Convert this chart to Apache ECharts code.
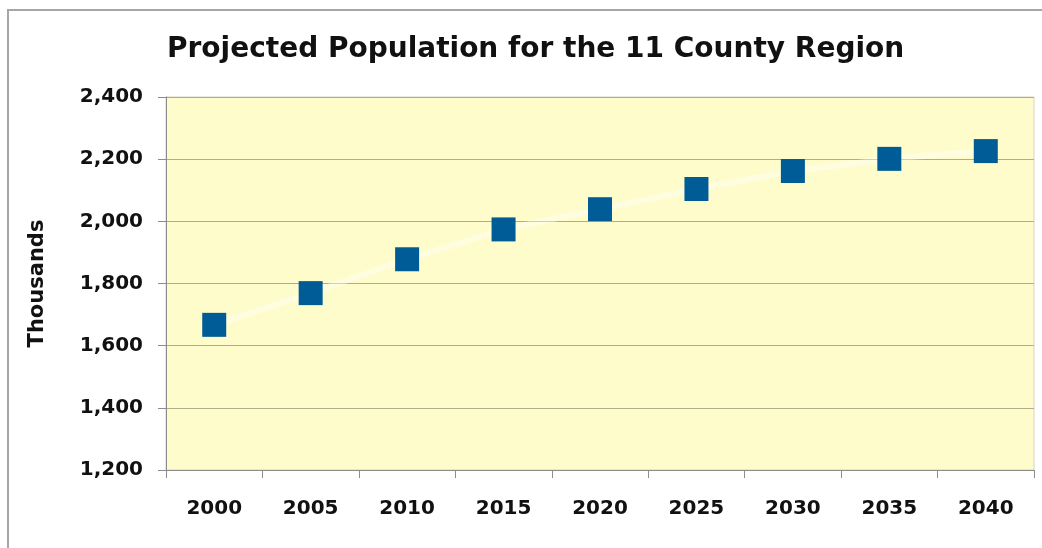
<!DOCTYPE html>
<html>
<head>
<meta charset="utf-8">
<title>Projected Population for the 11 County Region</title>
<script src="https://cdn.jsdelivr.net/npm/echarts@6/dist/echarts.min.js"></script>
<style>
  html, body { margin: 0; padding: 0; background: #ffffff; }
  #chart { width: 1042px; height: 548px; }
</style>
</head>
<body>
<div id="chart"></div>
<script>
// Projection years and population (thousands)
const years = ['2000', '2005', '2010', '2015', '2020', '2025', '2030', '2035', '2040'];
const population = [1667, 1769, 1878, 1974, 2039, 2104, 2162, 2201, 2226];
const yTicks = { min: 1200, max: 2400, step: 200 };

const FONT = '"DejaVu Sans", "Liberation Sans", Arial, sans-serif';

const chart = echarts.init(document.getElementById('chart'), null, { renderer: 'canvas' });

chart.setOption({
  backgroundColor: '#ffffff',
  animation: false,
  title: {
    text: 'Projected Population for the 11 County Region',
    left: 162,
    top: 31,
    textStyle: { fontFamily: FONT, fontWeight: 'bold', fontSize: 28, color: '#111111' }
  },
  graphic: [{
    type: 'rect',
    shape: { x: 8, y: 10, width: 1200, height: 700 },
    style: { fill: 'none', stroke: '#a6a6a6', lineWidth: 2 },
    silent: true,
    z: -1
  }],
  grid: {
    left: 166, right: 8, top: 97, bottom: 78,
    show: true,
    backgroundColor: '#fffccc',
    borderColor: '#d4d4c4',
    borderWidth: 1
  },
  xAxis: {
    type: 'category',
    data: years,
    boundaryGap: true,
    axisLine: { lineStyle: { color: '#8c8c8c', width: 1 } },
    axisTick: { show: true, length: 8, lineStyle: { color: '#8c8c8c' } },
    axisLabel: { margin: 29, fontFamily: FONT, fontWeight: 'bold', fontSize: 20, color: '#111111' },
    splitLine: { show: false }
  },
  yAxis: {
    type: 'value',
    min: yTicks.min,
    max: yTicks.max,
    interval: yTicks.step,
    name: 'Thousands',
    nameLocation: 'middle',
    nameRotate: 90,
    nameGap: 118,
    nameTextStyle: { fontFamily: FONT, fontWeight: 'bold', fontSize: 21, color: '#111111' },
    axisLine: { show: true, lineStyle: { color: '#8c8c8c', width: 1 } },
    axisTick: { show: true, length: 8, lineStyle: { color: '#8c8c8c' } },
    axisLabel: {
      margin: 23,
      fontFamily: FONT, fontWeight: 'bold', fontSize: 20, color: '#111111',
      formatter: v => v.toLocaleString('en-US')
    },
    splitLine: { show: true, lineStyle: { color: '#aeae8e', width: 1 } }
  },
  series: [{
    type: 'line',
    data: population,
    symbol: 'rect',
    symbolSize: 24,
    itemStyle: { color: '#005c97' },
    lineStyle: { color: 'rgba(255,255,255,0.4)', width: 6 },
    emphasis: { disabled: true }
  }]
});
</script>
</body>
</html>
